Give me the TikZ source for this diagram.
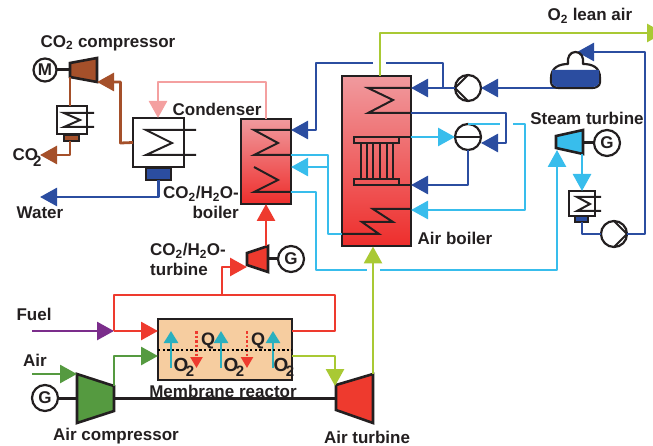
\documentclass[tikz,border=0pt]{standalone}
\usepackage{fontspec}
\setmainfont{Liberation Sans}
\usetikzlibrary{arrows.meta}
\definecolor{ink}{HTML}{231F20}
\definecolor{cbrown}{HTML}{A5502A}
\definecolor{cpink}{HTML}{F4A0A0}
\definecolor{cblue}{HTML}{2B4DA0}
\definecolor{clight}{HTML}{38BDEC}
\definecolor{clime}{HTML}{A9C934}
\definecolor{cred}{HTML}{EE3A2E}
\definecolor{cgreen}{HTML}{559A40}
\definecolor{cpurple}{HTML}{7B2D8B}
\definecolor{cteal}{HTML}{2AB0BF}
\definecolor{ctop}{HTML}{F09A9E}
\definecolor{cbot}{HTML}{EE2E2C}
\definecolor{cmem}{HTML}{F6CDA0}
\newcommand{\two}{\textsubscript{2}}
\newcommand{\bigtwo}[2]{\kern#1\raisebox{#2}{\fontsize{15}{15}\selectfont 2}}
\tikzset{
  x=1pt,y=-1pt,
  flow/.style={line width=2.8pt,draw=#1,line join=round,-{Triangle[length=17pt,width=18pt,color=#1]}},
  plain/.style={line width=2.8pt,draw=#1,line join=round},
  shaft/.style={line width=3pt,draw=ink},
  coil/.style={line width=2pt,draw=ink,line join=miter},
  unitbox/.style={draw=ink,line width=2.2pt,inner sep=0pt,outer sep=0pt,fill=white},
  hotbox/.style={unitbox,top color=ctop,bottom color=cbot},
  mach/.style={draw=ink,line width=2.6pt,fill=#1,line join=miter},
  drive/.style={circle,draw=ink,line width=2.2pt,fill=white,inner sep=0pt,outer sep=0pt,minimum size=#1,font=\bfseries\fontsize{17}{17}\selectfont,text=ink},
  lab/.style={font=\bfseries\fontsize{17}{19.5}\selectfont,text=ink,inner sep=0pt,align=center},
  oxy/.style={lab,font=\bfseries\fontsize{19}{19}\selectfont},
}
\begin{document}
\begin{tikzpicture}
\useasboundingbox (0,0) rectangle (653,446);

%---- units
\node[hotbox,minimum width=50pt,minimum height=85pt] (cb) at (266,161.5) {};
\node[hotbox,minimum width=69pt,minimum height=170pt] (ab) at (376.5,161) {};
\node[unitbox,minimum width=51pt,minimum height=49pt] (cond) at (158.5,142.5) {};
\node[unitbox,fill=cblue,minimum width=25pt,minimum height=12pt] (condh) at (158.5,174) {};
\node[unitbox,minimum width=30pt,minimum height=28pt] (cool) at (72,120) {};
\node[unitbox,fill=cbrown,minimum width=15pt,minimum height=6pt] (coolh) at (71.5,138) {};
\node[unitbox,minimum width=26pt,minimum height=25pt] (scool) at (582,203.5) {};
\node[unitbox,fill=cblue,minimum width=13pt,minimum height=6pt] (scoolh) at (581.5,219) {};
\node[draw=ink,line width=2.4pt,fill=cmem,inner sep=0pt,outer sep=0pt,minimum width=134pt,minimum height=61pt] (mr) at (225,349.5) {};

%---- drives and pumps
\node[drive=23pt] (m) at (45,70) {M};
\node[drive=26pt] (g1) at (45,398) {G};
\node[drive=26pt] (g2) at (291,259) {G};
\node[drive=26pt] (g3) at (607,143) {G};
\node[drive=26pt] (p1) at (468,88) {};
\node[drive=26pt] (sep) at (468,137) {};
\node[drive=26pt] (p2) at (614,234) {};
\draw[coil] (468,75) -- (p1.west) -- (468,101);
\draw[coil] (sep.west) -- (sep.east);
\draw[coil] (614,221) -- (p2.east) -- (614,247);

%---- turbomachines
\draw[mach=cbrown] (70,63) -- (97,58) -- (97,82) -- (70,77) -- cycle;
\draw[mach=clight] (556,136) -- (583,130) -- (583,154) -- (556,148) -- cycle;
\draw[mach=cred] (247,253) -- (268,246) -- (268,272) -- (247,265) -- cycle;
\draw[mach=cgreen] (77,374) -- (114,386) -- (114,411) -- (77,423) -- cycle;
\draw[mach=cred] (336,385) -- (373,374) -- (373,423) -- (336,410) -- cycle;
\coordinate (bc) at (97,82);
\coordinate (st) at (556,148);
\coordinate (ct) at (247,267);
\coordinate (ac) at (77,374);
\coordinate (at) at (336,386);

%---- shafts
\draw[shaft] (m.east) -- (70,70);
\draw[shaft] (g1.east) -- (77,398);
\draw[shaft] (114,398) -- (336,398);
\draw[shaft] (g2.west) -- (268,259);
\draw[shaft] (g3.west) -- (583,143);

%---- coils
\draw[coil] (196,130) -- (146,130) -- (172,143) -- (146,155) -- (196,155);
\draw[coil] (94,113) -- (64,113) -- (80,120) -- (64,127) -- (94,127);
\draw[coil] (601,197) -- (577,197) -- (590,204) -- (577,211) -- (601,211);
\draw[coil] (cb.east |- 0,130) -- (254,130) -- (278,143) -- (254,155) -- (cb.east |- 0,155);
\draw[coil] (254,167) -- (278,180) -- (254,192) -- (cb.east |- 0,192);
\draw[coil] (ab.east |- 0,88) -- (368,88) -- (393,100) -- (368,113) -- (ab.east |- 0,113);
\draw[coil] (ab.east |- 0,209) -- (373,209) -- (393,222) -- (362,222) -- (379,234) -- (ab.west |- 0,234);
\node[draw=ink,line width=1.4pt,inner sep=0pt,minimum width=45pt,minimum height=6pt] (h1) at (376.5,140) {};
\node[draw=ink,line width=1.4pt,inner sep=0pt,minimum width=45pt,minimum height=6pt] (h2) at (376.5,182) {};
\foreach \xx in {361,367,373,380,387,393}{\draw[line width=1.3pt,draw=ink] (\xx,143) -- (\xx,179);}
\draw[coil] (h1.east |- 0,137) -- (ab.east |- 0,137);
\draw[coil] (h2.east |- 0,185) -- (ab.east |- 0,185);

%---- CO2 train
\coordinate (a1) at (120.5,143);
\draw[flow=cbrown] (cond.west) -- (a1) |- (bc);
\draw[plain=cbrown] (70,77) -- (cool.north -| 70,0);
\coordinate (co2end) at (40,155);
\draw[flow=cbrown] (coolh.south -| 70,0) |- (co2end);
\coordinate (pk) at (266,82);
\draw[flow=cpink] (cb.north) -- (pk) -| (158,118);
\coordinate (waterend) at (40,197);
\draw[flow=cblue] (condh.south) |- (waterend);

%---- water / steam blue
\coordinate (tankout) at (557,88);
\draw[flow=cblue] (tankout) -- (p1.east);
\draw[flow=cblue] (p1.west) -- (ab.east |- p1.west);
\coordinate (b1) at (443,88);
\coordinate (b2) at (443,63);
\coordinate (b3) at (386,63);
\coordinate (b4) at (373,63);
\coordinate (b5) at (316,63);
\draw[plain=cblue] (b1) -- (b2) -- (b3);
\draw[flow=cblue] (b4) -- (b5) |- (cb.east |- 0,130);
\coordinate (b6) at (506,113);
\draw[flow=cblue] (ab.east |- 0,113) -- (b6) |- (481,143);
\draw[flow=cblue] (sep.south) |- (ab.east |- 0,185);
\coordinate (d1) at (582,234);
\draw[plain=cblue] (scoolh.south -| 582,0) -- (d1) -- (p2.west);
\coordinate (d2) at (645,234);
\coordinate (d3) at (645,52);
\coordinate (tanktop) at (577,52);
\draw[flow=cblue] (p2.east) -- (d2) -- (d3) -- (tanktop);

%---- light blue
\coordinate (l1) at (500,124);
\coordinate (l2) at (513,124);
\coordinate (l3) at (525,124);
\coordinate (l4) at (525,210);
\draw[plain=clight] (sep.north) -- (l1);
\draw[flow=clight] (l2) -- (l3) -- (l4) -- (ab.east |- 0,210);
\draw[flow=clight] (ab.east |- 0,137) -- (sep.west);
\coordinate (l5) at (328,155);
\coordinate (l6) at (328,234);
\coordinate (l7) at (328,167);
\draw[plain=clight] (cb.east |- 0,155) -- (l5) -- (l6) -- (ab.west |- 0,234);
\draw[flow=clight] (l7) -- (cb.east |- 0,167);
\coordinate (l8) at (316,192);
\coordinate (l9) at (316,270);
\coordinate (l10) at (367,270);
\coordinate (l11) at (380,270);
\coordinate (l12) at (557,270);
\coordinate (l13) at (557,150);
\draw[plain=clight] (cb.east |- 0,192) -- (l8) -- (l9) -- (l10);
\draw[flow=clight] (l11) -- (l12) -- (l13);
\draw[flow=clight] (582,154) -- (scool.north -| 582,0);

%---- tank
\draw[line width=2.2pt,draw=ink,fill=white,line join=round] (551,78) .. controls (551,67) and (560,64) .. (568,64) .. controls (567,57) and (570,52) .. (575.5,52) .. controls (581,52) and (584,57) .. (583,64) .. controls (592,64) and (600,67) .. (600,78) -- (600,82) .. controls (600,86) and (596,88) .. (592,88) -- (559,88) .. controls (555,88) and (551,86) .. (551,82) -- cycle;
\fill[cblue] (552,70) -- (599,70) -- (599,82) .. controls (599,85) and (596,87) .. (592,87) -- (559,87) .. controls (555,87) and (552,85) .. (552,82) -- cycle;

%---- gas path
\coordinate (g1a) at (380,33);
\coordinate (leanend) at (664,33);
\draw[flow=clime] (ab.north -| 380,0) -- (g1a) -- (leanend);
\draw[flow=clime] (373,374) -- (373,246.5);
\coordinate (e1) at (335,356);
\draw[flow=clime] (mr.east |- e1) -- (e1) -- (at -| e1);
\coordinate (f0) at (114,386);
\coordinate (f1) at (114,356);
\draw[flow=cgreen] (f0) -- (f1) -- (mr.west |- f1);
\coordinate (airstart) at (32,374);
\draw[flow=cgreen] (airstart) -- (ac);
\coordinate (fuelstart) at (32,331);
\coordinate (j) at (114,331);
\draw[flow=cpurple] (fuelstart) -- (j);
\draw[flow=cred] (j) -- (mr.west |- j);
\coordinate (r1) at (114,295);
\coordinate (r2) at (335,295);
\coordinate (r3) at (335,331);
\coordinate (r4) at (222,295);
\coordinate (r5) at (222,267);
\draw[plain=cred] (j) -- (r1) -- (r2) -- (r3) -- (mr.east |- r3);
\draw[flow=cred] (r4) -- (r5) -- (ct);
\draw[flow=cred] (266,246) -- (cb.south -| 266,0);

%---- membrane internals
\foreach \xx in {171,221,273}{\draw[line width=2.6pt,draw=cteal,-{Triangle[length=12pt,width=14pt,color=cteal]}] (\xx,368) -- (\xx,331);}
\foreach \xx in {196.5,247}{\draw[line width=2.4pt,draw=cred,dash pattern=on 2.5pt off 2pt,-{Triangle[length=11pt,width=12pt,color=cred]}] (\xx,331) -- (\xx,368);}
\draw[line width=2.6pt,draw=black,dash pattern=on 2.4pt off 2.2pt] (mr.west |- 0,350) -- (mr.east |- 0,350);
\node[lab,font=\bfseries\fontsize{18}{18}\selectfont] (q1) at (208,341) {Q};
\node[lab,font=\bfseries\fontsize{18}{18}\selectfont] (q2) at (258,341) {Q};
\node[oxy] (o1) at (184,367) {O\bigtwo{-2.5pt}{-5pt}};
\node[oxy] (o2) at (234,367) {O\bigtwo{-2.5pt}{-5pt}};
\node[oxy] (o3) at (284,367) {O\bigtwo{-2.5pt}{-5pt}};

%---- labels
\node[lab] (t1) at (108,43) {CO\two{} compressor};
\node[oxy,font=\bfseries\fontsize{17}{17}\selectfont] (t2) at (27,158) {CO\bigtwo{-5pt}{-6pt}};
\node[lab] (t3) at (40,213) {Water};
\node[lab] (t4) at (217,109) {Condenser};
\node[lab,align=right,anchor=north east] (t5) at (239,186) {CO\two/H\two O-\\boiler};
\node[lab,align=left,anchor=north west] (t6) at (150,243) {CO\two/H\two O-\\turbine};
\node[lab] (t7) at (590,16) {O\two{} lean air};
\node[lab] (t8) at (587,118) {Steam turbine};
\node[lab] (t9) at (455,238) {Air boiler};
\node[lab] (t10) at (34,314) {Fuel};
\node[lab] (t11) at (35,360) {Air};
\node[lab] (t12) at (223,391) {Membrane reactor};
\node[lab] (t13) at (116,436) {Air compressor};
\node[lab] (t14) at (367,437) {Air turbine};
\end{tikzpicture}
\end{document}
